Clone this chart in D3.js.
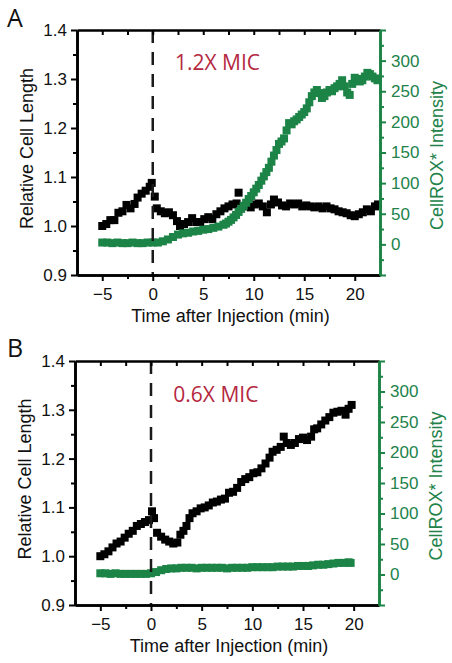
<!DOCTYPE html>
<html><head><meta charset="utf-8">
<script src="https://cdn.jsdelivr.net/npm/d3@7"></script>
<style>
html,body{margin:0;padding:0;background:#fff;}
svg{display:block;}
</style></head>
<body>
<svg id="chart" width="452" height="663"></svg>
<script>
// ---------- DATA ----------
const xTicks = [-5, 0, 5, 10, 15, 20];
const leftTicks = [0.9, 1.0, 1.1, 1.2, 1.3, 1.4];
const rightTicks = [0, 50, 100, 150, 200, 250, 300];
const panelLabels = ["A", "B"];
const annotations = ["1.2X MIC", "0.6X MIC"];

// Panel A – relative cell length (black)
const timeLenA = [-5.0,-4.6,-4.2,-3.8,-3.4,-3.0,-2.6,-2.2,-1.8,-1.5,-1.1,-0.7,-0.3,-0.1,0.2,0.4,0.8,1.2,1.6,2.0,2.4,2.7,3.1,3.5,3.9,4.3,4.7,5.1,5.5,5.9,6.3,6.7,7.1,7.5,7.9,8.3,8.5,8.9,9.3,9.7,10.1,10.5,10.9,11.3,11.7,12.0,12.4,12.8,13.2,13.6,14.0,14.4,14.8,15.2,15.6,16.0,16.4,16.8,17.2,17.6,18.0,18.4,18.8,19.2,19.6,20.0,20.4,20.8,21.2,21.6,22.0,22.3];
const lenA = [1.000,1.004,1.012,1.012,1.027,1.030,1.043,1.036,1.045,1.058,1.066,1.072,1.080,1.088,1.060,1.036,1.030,1.026,1.028,1.022,1.010,1.000,1.004,1.008,1.016,1.008,1.008,1.014,1.018,1.014,1.024,1.030,1.036,1.040,1.044,1.046,1.068,1.040,1.044,1.038,1.044,1.046,1.040,1.028,1.044,1.054,1.048,1.042,1.040,1.046,1.044,1.046,1.040,1.042,1.040,1.038,1.040,1.036,1.040,1.036,1.034,1.030,1.028,1.026,1.022,1.020,1.024,1.028,1.034,1.030,1.040,1.044];

// Panel A – CellROX* intensity (green)
const timeIntA = [-5,-4.5,-4,-3.5,-3,-2.5,-2,-1.5,-1,-0.5,0,0.5,1,1.5,2,2.5,3,3.5,4,4.5,5,5.5,6,6.5,7,7.25,7.5,7.75,8,8.25,8.5,8.75,9,9.25,9.5,9.75,10,10.25,10.5,10.75,11,11.25,11.5,11.75,12,12.25,12.5,12.75,13,13.25,13.5,13.75,14,14.25,14.5,14.75,15,15.25,15.5,15.75,16,16.25,16.5,16.75,17,17.25,17.5,17.75,18,18.25,18.5,18.75,19,19.25,19.5,19.75,20,20.25,20.5,20.75,21,21.25,21.5,21.75,22,22.25];
const intA = [3,3,2,3,2,2,3,2,2,3,3,3,5,8,12,16,18,19,21,22,24,25,27,29,32,34,37,40,44,48,53,58,63,68,74,79,85,91,97,104,111,118,125,135,145,154,164,168,173,186,198,196,201,204,208,212,216,222,232,242,248,252,247,239,242,248,252,250,255,258,262,268,258,248,244,262,272,270,266,268,274,280,278,274,271,268];

// Panel B – relative cell length (black)
const timeLenB = [-5.0,-4.6,-4.2,-3.8,-3.4,-3.0,-2.6,-2.2,-1.8,-1.4,-1.0,-0.6,-0.2,0.1,0.3,0.6,1.0,1.4,1.8,2.2,2.6,2.9,3.2,3.5,3.8,4.1,4.5,4.9,5.3,5.7,6.1,6.5,6.9,7.3,7.7,8.1,8.5,8.9,9.3,9.7,10.1,10.5,10.9,11.3,11.7,12.0,12.4,12.8,13.1,13.4,13.8,14.2,14.6,15.0,15.4,15.8,16.1,16.4,16.8,17.2,17.6,18.0,18.4,18.8,19.2,19.5,19.8];
const lenB = [1.000,1.004,1.010,1.018,1.026,1.030,1.038,1.046,1.052,1.062,1.066,1.070,1.074,1.092,1.078,1.048,1.040,1.034,1.030,1.026,1.028,1.044,1.052,1.062,1.078,1.088,1.092,1.098,1.100,1.104,1.110,1.112,1.116,1.118,1.130,1.132,1.140,1.152,1.158,1.162,1.170,1.172,1.180,1.190,1.202,1.214,1.218,1.224,1.245,1.232,1.228,1.232,1.240,1.243,1.238,1.245,1.260,1.262,1.270,1.278,1.285,1.294,1.296,1.298,1.290,1.302,1.310];

// Panel B – CellROX* intensity (green)
const timeIntB = [-5,-4.5,-4,-3.5,-3,-2.5,-2,-1.5,-1,-0.5,0,0.5,1,1.5,2,2.5,3,3.5,4,4.5,5,5.5,6,6.5,7,7.5,8,8.5,9,9.5,10,10.5,11,11.5,12,12.5,13,13.5,14,14.5,15,15.5,16,16.5,17,17.5,18,18.5,19,19.5,19.7];
const intB = [2,2,1,2,1,1,1,1,1,1,2,4,7,9,10,10,11,11,11,10,11,11,11,11,11,10,11,11,11,11,12,12,12,12,12,13,13,13,13,14,14,14,15,16,16,17,18,19,19,20,19];

// ---------- STYLE ----------
const GREEN = "#1c8446";
const GREEN_TXT = "#22824a";
const RED = "#b5283f";
const TICK_FONT = "'Liberation Sans', Arial, Helvetica, sans-serif";
const LABEL_FONT = "'Open Sans', sans-serif";

const svg = d3.select("#chart");

const panels = [
  {label: panelLabels[0], note: annotations[0], tLen: timeLenA, vLen: lenA, tInt: timeIntA, vInt: intA,
   left: 77, right: 380, top: 30, bottom: 275, labelY: 27, noteY: 70},
  {label: panelLabels[1], note: annotations[1], tLen: timeLenB, vLen: lenB, tInt: timeIntB, vInt: intB,
   left: 75, right: 379, top: 361, bottom: 605, labelY: 357, noteY: 402}
];

panels.forEach(p => {
  const x = d3.scaleLinear().domain([-7.5, 22.5]).range([p.left, p.right]);
  const yL = d3.scaleLinear().domain([0.9, 1.4]).range([p.bottom, p.top]);
  const yR = d3.scaleLinear().domain([-50, 350]).range([p.bottom, p.top]);
  const g = svg.append("g");

  // data: black then green
  const sq = 8;
  g.append("g").selectAll("rect").data(p.tLen.map((t, i) => [t, p.vLen[i]])).join("rect")
    .attr("x", d => x(d[0]) - sq / 2).attr("y", d => yL(d[1]) - sq / 2)
    .attr("width", sq).attr("height", sq).attr("fill", "#000");
  g.append("g").selectAll("rect").data(p.tInt.map((t, i) => [t, p.vInt[i]])).join("rect")
    .attr("x", d => x(d[0]) - sq / 2).attr("y", d => yR(d[1]) - sq / 2)
    .attr("width", sq).attr("height", sq).attr("fill", GREEN);

  // dashed line at injection
  g.append("line").attr("x1", x(0)).attr("x2", x(0)).attr("y1", p.top).attr("y2", p.bottom)
    .attr("stroke", "#1a1a1a").attr("stroke-width", 2.5).attr("stroke-dasharray", "13,9");

  // bottom axis
  const bx = g.append("g").attr("transform", `translate(0,${p.bottom})`)
    .call(d3.axisBottom(x).tickValues(xTicks).tickFormat(d3.format("d")).tickSize(6).tickSizeOuter(0));
  g.append("g").attr("transform", `translate(0,${p.bottom})`)
    .call(d3.axisBottom(x).tickValues([-2.5, 2.5, 7.5, 12.5, 17.5]).tickFormat("").tickSize(4).tickSizeOuter(0));
  // top axis (inward ticks)
  g.append("g").attr("transform", `translate(0,${p.top})`)
    .call(d3.axisBottom(x).tickValues([-5, -2.5, 0, 2.5, 5, 7.5, 10, 12.5, 15, 17.5, 20]).tickFormat("").tickSize(5).tickSizeOuter(0));
  // left axis
  const lx = g.append("g").attr("transform", `translate(${p.left},0)`)
    .call(d3.axisLeft(yL).tickValues(leftTicks).tickFormat(d3.format(".1f")).tickSize(6).tickSizeOuter(0));
  g.append("g").attr("transform", `translate(${p.left},0)`)
    .call(d3.axisLeft(yL).tickValues([0.95, 1.05, 1.15, 1.25, 1.35]).tickFormat("").tickSize(4).tickSizeOuter(0));
  // right axis
  const rAxis = g.append("g").attr("transform", `translate(${p.right},0)`)
    .call(d3.axisRight(yR).tickValues(rightTicks.concat([-50, 350])).tickFormat(d => rightTicks.includes(d) ? d : "").tickSize(6).tickSizeOuter(0));
  const rMinor = g.append("g").attr("transform", `translate(${p.right},0)`)
    .call(d3.axisRight(yR).tickValues([-25, 25, 75, 125, 175, 225, 275, 325]).tickFormat("").tickSize(4).tickSizeOuter(0));

  g.selectAll(".domain").attr("stroke-width", 2.6);
  g.selectAll(".tick line").attr("stroke-width", 2);
  g.selectAll(".tick text").attr("font-family", TICK_FONT).attr("font-size", 17).attr("fill", "#111");
  bx.selectAll(".tick text").attr("dy", "0.95em");
  lx.selectAll(".tick text").attr("dx", "-1px");
  [rAxis, rMinor].forEach(a => a.selectAll(".domain, .tick line").attr("stroke", GREEN));
  rAxis.selectAll(".tick text").attr("fill", GREEN_TXT).attr("dx", "2px");

  // axis titles
  g.append("text").attr("x", (p.left + p.right) / 2 + 2).attr("y", p.bottom + 47)
    .attr("text-anchor", "middle").attr("font-family", TICK_FONT).attr("font-size", 18).attr("fill", "#111")
    .text("Time after Injection (min)");
  g.append("text").attr("transform", `translate(${p.left - 44},${(p.top + p.bottom) / 2 - 4}) rotate(-90)`)
    .attr("text-anchor", "middle").attr("font-family", TICK_FONT).attr("font-size", 18).attr("fill", "#111")
    .text("Relative Cell Length");
  g.append("text").attr("transform", `translate(${p.right + 63},${(p.top + p.bottom) / 2 + 3}) rotate(-90)`)
    .attr("text-anchor", "middle").attr("font-family", TICK_FONT).attr("font-size", 18).attr("fill", GREEN_TXT)
    .text("CellROX* Intensity");

  // panel label & annotation
  g.append("text").attr("x", 7).attr("y", p.labelY)
    .attr("font-family", LABEL_FONT).attr("font-size", 25).attr("fill", "#111").text(p.label);
  g.append("text").attr("x", x(2.2)).attr("y", p.noteY)
    .attr("font-family", LABEL_FONT).attr("font-size", 21).attr("fill", RED).text(p.note);
});
</script>
</body></html>
